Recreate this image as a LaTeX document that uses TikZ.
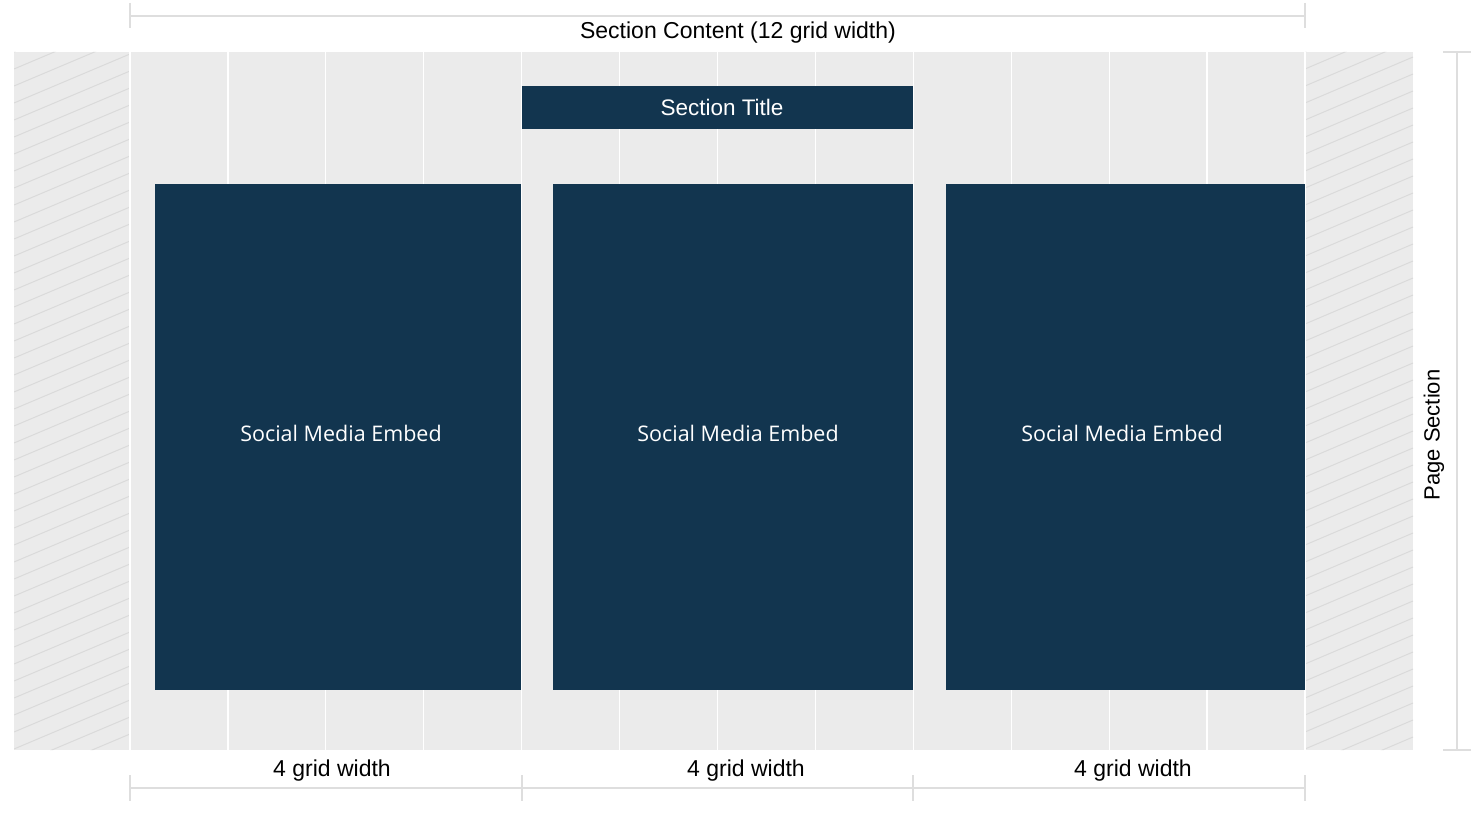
\documentclass[tikz,border=0pt]{standalone}
\usepackage{fontspec}
\setmainfont{Liberation Sans}
\newfontfamily\embedfont{Open Sans}
\definecolor{bgray}{HTML}{EBEBEB}
\definecolor{hatch}{HTML}{DADADA}
\definecolor{dimgray}{HTML}{DEDEDE}
\definecolor{navy}{HTML}{12354F}
\begin{document}
\begin{tikzpicture}[x=1pt,y=-1pt,
  dimline/.style={draw=dimgray,line width=2pt},
  gridline/.style={draw=white,line width=1.3pt},
  embedbox/.style={fill=navy,draw=none,inner sep=0pt,text=white,font=\embedfont\fontsize{21.5}{25}\selectfont},
  lbl/.style={text=black,font=\fontsize{23}{27}\selectfont,inner sep=0pt}]
\useasboundingbox (0,0) rectangle (1476,816);
% background
\fill[bgray] (14,52) rectangle (1413,750);
% hatching in margins
\begin{scope}
\clip (14,52) rectangle (130,750) (1305,52) rectangle (1413,750);
\foreach \k in {0,...,50}{
  \draw[hatch,line width=1pt] (14,{52+17*\k}) -- (130,{52+17*\k-49});
  \draw[hatch,line width=1pt] (1305,{52+17*\k}) -- (1413,{52+17*\k-46});
}
\end{scope}
% grid columns
\foreach \i in {0,...,12}{
  \draw[gridline] ({130+\i*97.917},52) -- ({130+\i*97.917},750);
}
% top dimension
\coordinate (tl) at (130,16); \coordinate (tr) at (1305,16);
\draw[dimline] (tl) -- (tr);
\draw[dimline] (130,3) -- (130,28);
\draw[dimline] (1305,3) -- (1305,28);
\node[lbl] (sc) at (738,33) {Section Content (12 grid width)};
% bottom dimension
\coordinate (b0) at (130,788); \coordinate (b3) at (1305,788);
\draw[dimline] (b0) -- (b3);
\foreach \x in {130,522,913,1305}{\draw[dimline] (\x,775) -- (\x,801);}
\node[lbl] (g1) at (332,771) {4 grid width};
\node[lbl] (g2) at (746,771) {4 grid width};
\node[lbl] (g3) at (1133,771) {4 grid width};
% right dimension
\coordinate (rt) at (1457,52); \coordinate (rb) at (1457,750);
\draw[dimline] (rt) -- (rb);
\draw[dimline] (1443,52) -- (1471,52);
\draw[dimline] (1443,750) -- (1471,750);
\node[lbl,rotate=90,font=\fontsize{22}{26}\selectfont] (ps) at (1434,435) {Page Section};
% title
\node[fill=navy,inner sep=0pt,minimum width=391pt,minimum height=43pt] (tbox) at (717.5,107.5) {};
\node[text=white,font=\fontsize{22.5}{26}\selectfont,inner sep=0pt] (ttl) at (722,107) {Section Title};
% embeds
\node[embedbox,minimum width=366pt,minimum height=506pt] (e1) at (338,437) {};
\node[embedbox,minimum width=360pt,minimum height=506pt] (e2) at (733,437) {};
\node[embedbox,minimum width=359pt,minimum height=506pt] (e3) at (1125.5,437) {};
\node[embedbox] (t1) at (341,433) {Social Media Embed};
\node[embedbox] (t2) at (738,433) {Social Media Embed};
\node[embedbox] (t3) at (1122,433) {Social Media Embed};
\end{tikzpicture}
\end{document}
